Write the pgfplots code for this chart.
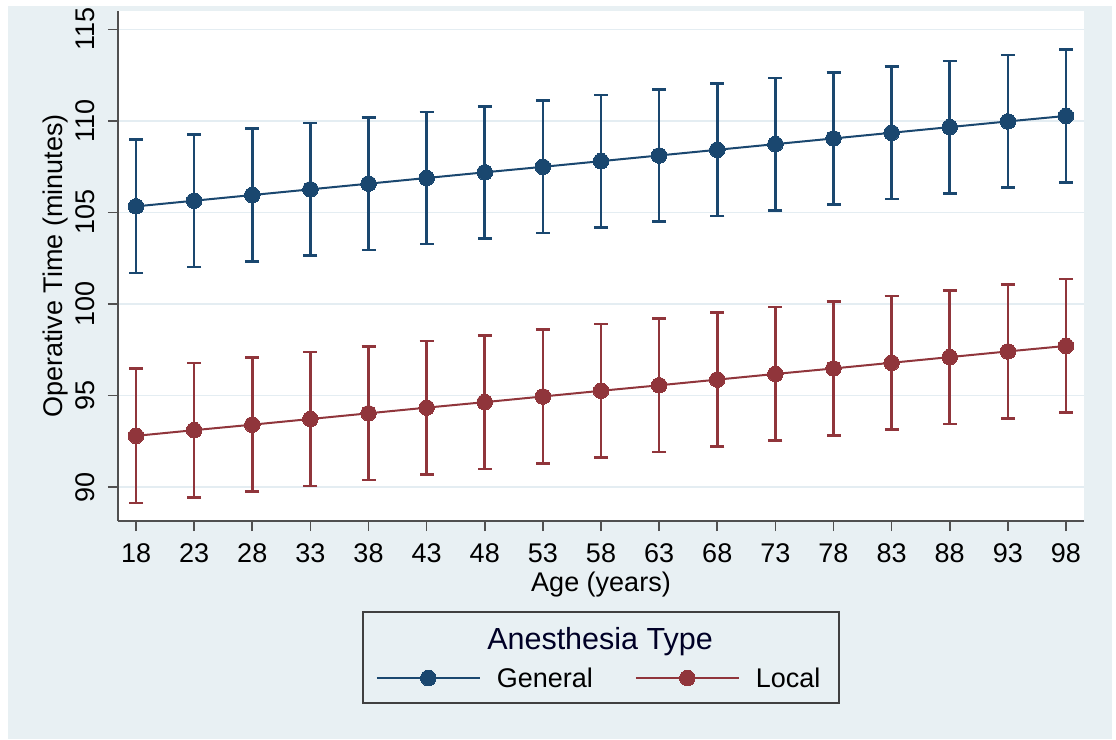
\documentclass[border=0pt]{standalone}
\usepackage{fontspec}
\setmainfont{Liberation Sans}
\usepackage{pgfplots}
\pgfplotsset{compat=1.18}
\definecolor{stnavy}{RGB}{26,71,111}
\definecolor{stmaroon}{RGB}{144,53,59}
\definecolor{bgcol}{RGB}{232,240,243}
\definecolor{gridcol}{RGB}{228,237,242}
\definecolor{axcol}{RGB}{80,80,80}
\begin{document}
\begin{tikzpicture}
\fill[white] (0pt,0pt) rectangle (1116pt,739pt);
\fill[bgcol] (8pt,0pt) rectangle (1112pt,733pt);
\begin{axis}[
  at={(118pt,218pt)}, anchor=south west,
  width=966pt, height=510pt, scale only axis,
  xmin=16.45, xmax=99.55, ymin=88.15, ymax=116,
  axis x line*=bottom, axis y line*=left,
  axis line style={-, color=axcol, line width=1.8pt},
  axis background/.style={fill=white},
  xtick={18,23,...,98}, ytick={90,95,...,115},
  tick align=outside, major tick length=10pt,
  tick style={color=axcol, line width=1.6pt},
  ymajorgrids, grid style={color=gridcol, line width=1.6pt},
  /pgf/number format/assume math mode=true,
  ticklabel style={font=\fontsize{27}{32}\selectfont, text=black},
  yticklabel style={rotate=90, anchor=south},
  yticklabel shift=10pt, xticklabel shift=9pt,
  xlabel={Age (years)}, ylabel={Operative Time (minutes)},
  label style={font=\fontsize{27}{32}\selectfont, text=black},
  xlabel style={at={(axis description cs:0.5,-0.124)}, anchor=center},
  ylabel style={at={(axis description cs:-0.065,0.5)}, anchor=center, rotate=0},
  legend columns=2,
  legend style={at={(axis description cs:0.498,-0.3078)}, anchor=center, draw=none, fill=none,
    font=\fontsize{27}{32}\selectfont, text=black,
    /tikz/every odd column/.append style={column sep=14pt},
    /tikz/every even column/.append style={column sep=40pt}},
  legend image code/.code={\draw[mark repeat=2,mark phase=2,#1] plot coordinates {(0pt,0pt) (51.5pt,0pt) (103pt,0pt)};},
]
\addplot[color=stnavy, line width=2pt, mark=*, mark size=7.8pt, mark options={solid, fill=stnavy, draw=stnavy, line width=0pt},
  error bars/.cd, y dir=both, y explicit,
  error bar style={color=stnavy, line width=2.6pt},
  error mark options={rotate=90, mark size=7pt, line width=2.6pt, color=stnavy}]
  table[x=x, y=y, y error=e] {
x y e
18 105.33 3.64
23 105.64 3.63
28 105.95 3.63
33 106.26 3.62
38 106.57 3.62
43 106.88 3.61
48 107.19 3.61
53 107.49 3.61
58 107.80 3.61
63 108.11 3.61
68 108.42 3.61
73 108.73 3.61
78 109.04 3.61
83 109.35 3.61
88 109.66 3.61
93 109.97 3.62
98 110.27 3.62
};
\addlegendentry{General}
\addplot[color=stmaroon, line width=2pt, mark=*, mark size=7.8pt, mark options={solid, fill=stmaroon, draw=stmaroon, line width=0pt},
  error bars/.cd, y dir=both, y explicit,
  error bar style={color=stmaroon, line width=2.6pt},
  error mark options={rotate=90, mark size=7pt, line width=2.6pt, color=stmaroon}]
  table[x=x, y=y, y error=e] {
x y e
18 92.80 3.67
23 93.11 3.67
28 93.41 3.66
33 93.72 3.66
38 94.03 3.65
43 94.34 3.65
48 94.64 3.65
53 94.95 3.65
58 95.26 3.65
63 95.56 3.65
68 95.87 3.65
73 96.18 3.65
78 96.48 3.65
83 96.79 3.65
88 97.10 3.65
93 97.41 3.65
98 97.71 3.65
};
\addlegendentry{Local}
\end{axis}
\draw[color=axcol!80!black, line width=1.8pt] (363pt,127pt) rectangle (839pt,36pt);
\node[font=\fontsize{30.5}{36}\selectfont, text=black!85!blue] at (600pt,97pt) {Anesthesia Type};
\pgfresetboundingbox
\path[use as bounding box] (0pt,0pt) rectangle (1116pt,739pt);
\end{tikzpicture}
\end{document}
